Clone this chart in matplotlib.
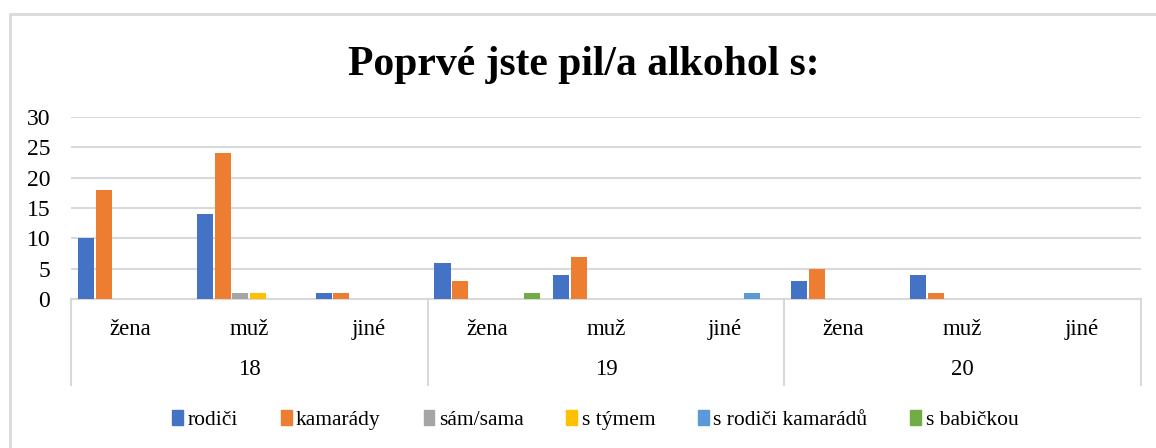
import numpy as np
import matplotlib.pyplot as plt
from matplotlib.patches import Rectangle

plt.rcParams['font.family'] = ['Liberation Serif', 'DejaVu Serif']

groups = ['18', '19', '20']
subcats = ['žena', 'muž', 'jiné']
series = ['rodiči', 'kamarády', 'sám/sama', 's týmem', 's rodiči kamarádů', 's babičkou']
colors = ['#4472C4', '#ED7D31', '#A5A5A5', '#FFC000', '#5B9BD5', '#70AD47']

# one list per series, 9 values: 18 žena/muž/jiné, 19 ..., 20 ...
rodici = [10, 14, 1, 6, 4, 0, 3, 4, 0]
kamarady = [18, 24, 1, 3, 7, 0, 5, 1, 0]
sam_sama = [0, 1, 0, 0, 0, 0, 0, 0, 0]
s_tymem = [0, 1, 0, 0, 0, 0, 0, 0, 0]
s_rodici_kamaradu = [0, 0, 0, 0, 0, 1, 0, 0, 0]
s_babickou = [0, 0, 0, 1, 0, 0, 0, 0, 0]
values = [rodici, kamarady, sam_sama, s_tymem, s_rodici_kamaradu, s_babickou]

fig = plt.figure(figsize=(11.56, 4.48), dpi=100)
ax = fig.add_axes([0.0614, 0.3326, 0.9256, 0.4062])

n = len(groups) * len(subcats)
x = np.arange(n)
slot = 0.15
for j, (vals, col) in enumerate(zip(values, colors)):
    pos = x + 0.05 + slot * (j + 0.5)
    heights = np.array(vals, dtype=float)
    mask = heights > 0
    ax.bar(pos[mask], heights[mask], width=0.135, color=col, label=series[j], zorder=3)

ax.set_xlim(0, n)
ax.set_ylim(0, 30)
ax.set_yticks(range(0, 31, 5))
ax.tick_params(axis='y', length=0, labelsize=17, pad=15)
ax.set_xticks([])
ax.grid(axis='y', color='#d9d9d9', linewidth=1.5, zorder=0)
for s in ['top', 'right', 'left']:
    ax.spines[s].set_visible(False)
ax.spines['bottom'].set_color('#d9d9d9')
ax.spines['bottom'].set_linewidth(1.5)

# multi-level category axis
trans = ax.get_xaxis_transform()
for b in [0, 3, 6, 9]:
    ax.plot([b, b], [0, -0.4725], transform=trans, color='#d9d9d9', lw=1.5, clip_on=False)
for i in range(n):
    ax.text(i + 0.5, -0.165, subcats[i % 3], transform=trans, ha='center', va='center', fontsize=16.5)
for g, name in enumerate(groups):
    ax.text(g * 3 + 1.5, -0.39, name, transform=trans, ha='center', va='center', fontsize=16.5)

fig.text(0.505, 0.855, 'Poprvé jste pil/a alkohol s:', ha='center', va='center',
         fontsize=30, fontweight='bold')

handles = [Rectangle((0, 0), 1, 1, color=c) for c in colors]
fig.legend(handles, series, loc='center', bbox_to_anchor=(0.515, 0.062), ncol=6, frameon=False,
           fontsize=15.5, handlelength=0.5, handleheight=0.7, handletextpad=0.2, columnspacing=2.0)

# chart border
fig.add_artist(Rectangle((10 / 1156, -0.1), 1.2, 1 - 14 / 448 + 0.1, transform=fig.transFigure,
                         fill=False, edgecolor='#d9d9d9', lw=2))

fig.savefig('out.png', dpi=100)
